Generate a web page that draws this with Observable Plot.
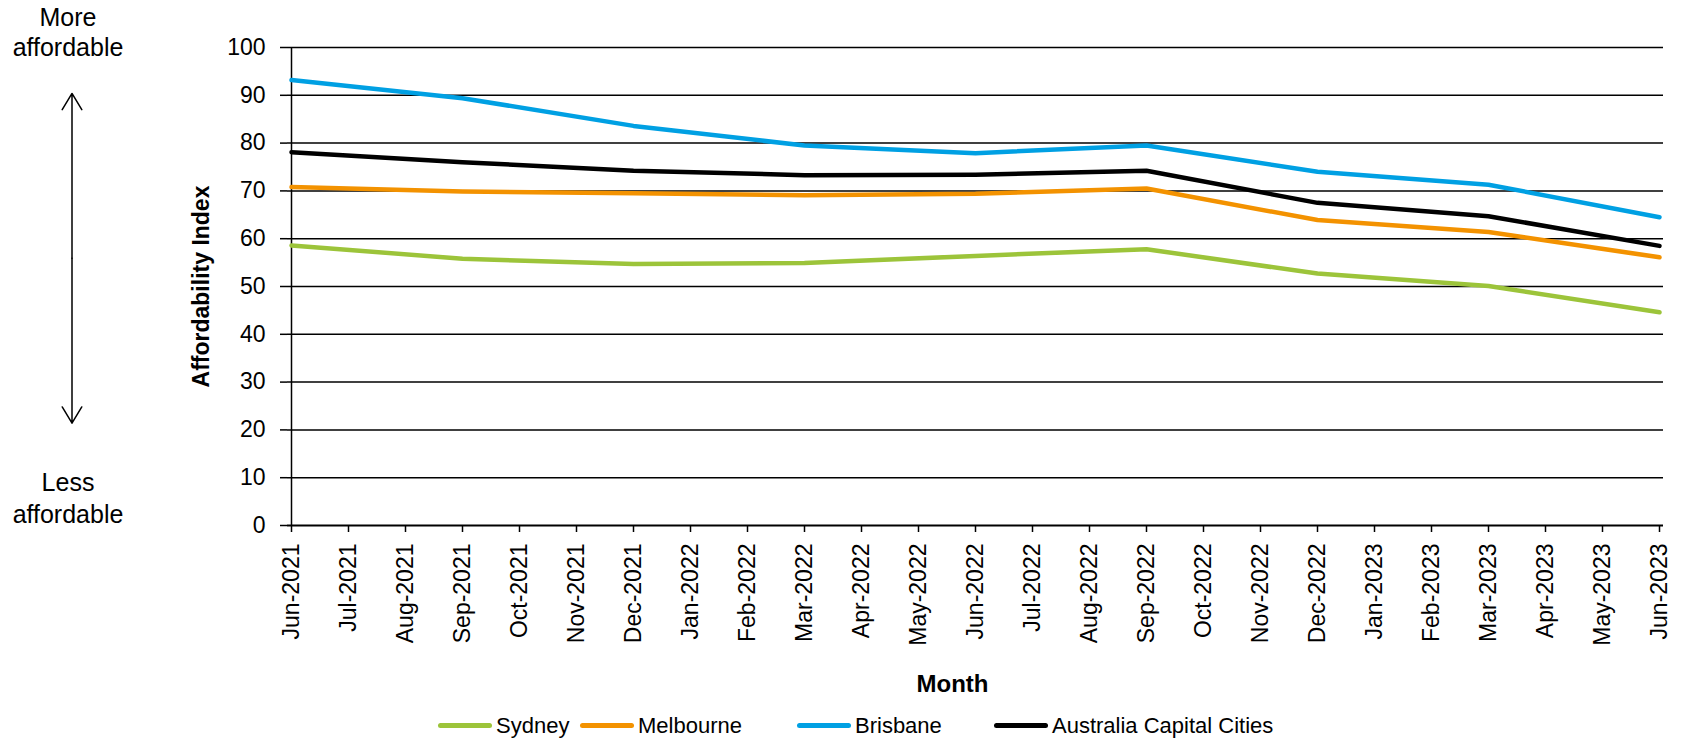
<!DOCTYPE html>
<html>
<head>
<meta charset="utf-8">
<script src="https://cdn.jsdelivr.net/npm/d3@7"></script>
<script src="https://cdn.jsdelivr.net/npm/@observablehq/plot@0.6"></script>
<style>
  html, body { margin: 0; padding: 0; background: #fff; overflow: hidden; }
  #chart { position: relative; width: 1685px; height: 739px; }
  #legend { position: relative; width: 1685px; height: 27px; font-family: "Liberation Sans", Arial, sans-serif; font-size: 22px; color: #000; }
  .item { position: absolute; top: 0; height: 27px; display: flex; align-items: center; white-space: nowrap; }
  .swatch { width: 54px; height: 5px; border-radius: 3px; margin-right: 4px; }
</style>
</head>
<body>
<div id="chart"></div>
<script>
// Month labels along the x axis
const months = [
  "Jun-2021", "Jul-2021", "Aug-2021", "Sep-2021", "Oct-2021", "Nov-2021", "Dec-2021",
  "Jan-2022", "Feb-2022", "Mar-2022", "Apr-2022", "May-2022", "Jun-2022", "Jul-2022",
  "Aug-2022", "Sep-2022", "Oct-2022", "Nov-2022", "Dec-2022", "Jan-2023", "Feb-2023",
  "Mar-2023", "Apr-2023", "May-2023", "Jun-2023"
];

// Quarterly observations
const quarters = ["Jun-2021", "Sep-2021", "Dec-2021", "Mar-2022", "Jun-2022", "Sep-2022", "Dec-2022", "Mar-2023", "Jun-2023"];

const seriesNames = ["Sydney", "Melbourne", "Brisbane", "Australia Capital Cities"];
const seriesColors = ["#9cc43a", "#f39200", "#00a0e3", "#000000"];

const sydney    = [58.6, 55.8, 54.7, 54.9, 56.4, 57.8, 52.7, 50.1, 44.6];
const melbourne = [70.8, 69.9, 69.5, 69.1, 69.4, 70.5, 63.9, 61.4, 56.1];
const brisbane  = [93.2, 89.4, 83.6, 79.5, 77.9, 79.5, 74.0, 71.3, 64.5];
const australia = [78.1, 76.0, 74.2, 73.3, 73.4, 74.2, 67.5, 64.7, 58.5];

const yTicks = [0, 10, 20, 30, 40, 50, 60, 70, 80, 90, 100];

const seriesValues = [sydney, melbourne, brisbane, australia];
const tidy = seriesNames.map((name, s) =>
  quarters.map((month, i) => ({series: name, month, value: seriesValues[s][i]}))
);

const font = "'Liberation Sans', Arial, sans-serif";

const chart = Plot.plot({
  width: 1685,
  height: 712,
  marginLeft: 287,
  marginRight: 22,
  marginTop: 47,
  marginBottom: 187,
  style: {fontFamily: font, background: "#fff", color: "#000", overflow: "visible"},
  x: {type: "point", domain: months, padding: 0},
  y: {domain: [0, 100]},
  marks: [
    Plot.gridY({ticks: yTicks.filter(d => d > 0), stroke: "#000", strokeOpacity: 1, strokeWidth: 1.5}),
    Plot.axisY({ticks: yTicks, tickSize: 7, tickPadding: 15, fontSize: 23, label: null, strokeWidth: 1.5}),
    Plot.axisX({tickRotate: -90, tickSize: 7, tickPadding: 11, fontSize: 23, label: null, strokeWidth: 1.5}),
    Plot.ruleX([months[0]], {stroke: "#000", strokeWidth: 1.5}),
    Plot.ruleY([0], {stroke: "#000", strokeWidth: 2}),
    ...tidy.map((rows, s) => Plot.lineY(rows, {
      x: "month", y: "value", stroke: seriesColors[s], strokeWidth: 4.5,
      strokeLinecap: "round", strokeLinejoin: "round"
    })),
    // axis titles
    Plot.text(["Affordability Index"], {
      frameAnchor: "left", text: d => d, rotate: -90, dx: -86,
      textAnchor: "middle", lineAnchor: "middle",
      fontSize: 23, fontWeight: "bold", fontFamily: font
    }),
    Plot.text(["Month"], {
      frameAnchor: "bottom", text: d => d, dx: -23, dy: 159,
      textAnchor: "middle", lineAnchor: "middle",
      fontSize: 24, fontWeight: "bold", fontFamily: font
    }),
    // affordability direction annotation
    Plot.text(["More\naffordable"], {
      frameAnchor: "top-left", text: d => d, dx: -219.5, dy: -16,
      lineAnchor: "middle", textAnchor: "middle", lineHeight: 1.2, fontSize: 25
    }),
    Plot.text(["Less\naffordable"], {
      frameAnchor: "bottom-left", text: d => d, dx: -219.5, dy: -28.5,
      lineAnchor: "middle", textAnchor: "middle", lineHeight: 1.28, fontSize: 25
    }),
    Plot.arrow([{from: 55.9, to: 90.4}, {from: 55.9, to: 21.4}], {
      x: () => months[0], y1: "from", y2: "to", dx: -219.5,
      stroke: "#000", strokeWidth: 1.5, headLength: 19, headAngle: 62
    })
  ]
});

const root = document.getElementById("chart");
root.appendChild(chart);

// Legend below the chart
const legend = document.createElement("div");
legend.id = "legend";
const legendLeft = [438, 580, 797, 994];
seriesNames.forEach((name, i) => {
  const item = document.createElement("div");
  item.className = "item";
  item.style.left = legendLeft[i] + "px";
  const sw = document.createElement("span");
  sw.className = "swatch";
  sw.style.background = seriesColors[i];
  const label = document.createElement("span");
  label.textContent = name;
  item.appendChild(sw);
  item.appendChild(label);
  legend.appendChild(item);
});
root.appendChild(legend);
</script>
</body>
</html>
